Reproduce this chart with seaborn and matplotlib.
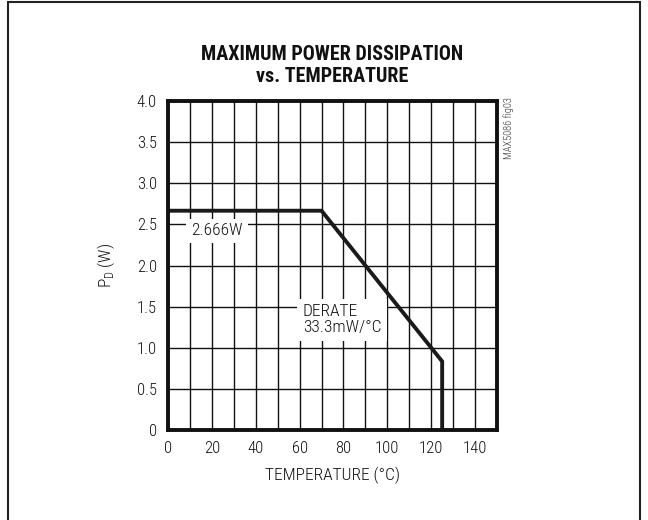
import matplotlib
matplotlib.use("Agg")
import matplotlib.pyplot as plt
import seaborn as sns
import pandas as pd
from matplotlib.patches import Rectangle
from matplotlib import font_manager

temperature = [0, 70, 125, 125]
power = [2.666, 2.666, 0.834, 0.0]
x_ticks = [0, 20, 40, 60, 80, 100, 120, 140]
y_ticks = [0, 0.5, 1.0, 1.5, 2.0, 2.5, 3.0, 3.5, 4.0]
y_tick_labels = ["0", "0.5", "1.0", "1.5", "2.0", "2.5", "3.0", "3.5", "4.0"]

sns.set_theme(style="white")
names = {f.name for f in font_manager.fontManager.ttflist}
fam = [n for n in ["Roboto Condensed", "Liberation Sans Narrow", "Liberation Sans"] if n in names] + ["DejaVu Sans"]
plt.rcParams['font.family'] = fam

df = pd.DataFrame({"T": temperature, "P": power})

fig = plt.figure(figsize=(6.48, 5.2), dpi=100)
fig.patch.set_facecolor("white")
fig.add_artist(Rectangle((8/648, -0.05), (640-8)/648, 1 - 2/520 + 0.05,
                         transform=fig.transFigure, fill=False,
                         edgecolor="#222222", linewidth=1.5))

ax = fig.add_axes([168/648, 1-430/520, (497-168)/648, (430-101)/520])
sns.lineplot(data=df, x="T", y="P", ax=ax, color="#1a1a1a", linewidth=2.8,
             sort=False, estimator=None, solid_joinstyle="miter")

ax.set_xlim(0, 150)
ax.set_ylim(0, 4.0)
ax.set_xticks(x_ticks)
ax.set_xticks([v for v in range(0, 151, 10) if v not in x_ticks], minor=True)
ax.set_yticks(y_ticks)
ax.set_yticklabels(y_tick_labels)
ax.grid(True, which="major", color="#111111", linewidth=1.0)
ax.grid(True, which="minor", axis="x", color="#111111", linewidth=1.0)
ax.set_axisbelow(True)
ax.tick_params(which="both", length=0, labelsize=12, colors="#111111", pad=8)
for lbl in ax.get_xticklabels() + ax.get_yticklabels():
    lbl.set_fontweight("light")
for s in ax.spines.values():
    s.set_linewidth(2.8)
    s.set_color("#111111")

ax.set_xlabel("TEMPERATURE (°C)", fontsize=12.5, color="#111111", labelpad=8, fontweight="light")
ax.set_ylabel("P$_\\mathregular{D}$ (W)", fontsize=12.5, color="#111111", labelpad=14, fontweight="light")

ax.text(10.6, 2.42, "2.666W", fontsize=12.5, color="#111111", va="center", ha="left",
        fontweight="light", bbox=dict(facecolor="white", edgecolor="none", pad=3.5))
ax.text(61.4, 1.34, "DERATE\n33.3mW/°C", fontsize=12.5, color="#111111", va="center", ha="left",
        linespacing=1.1, fontweight="light", bbox=dict(facecolor="white", edgecolor="none", pad=4))

fig.text(332/648, 1-55/520, "MAXIMUM POWER DISSIPATION", ha="center", va="center",
         fontsize=14.5, fontweight="bold", color="#111111")
fig.text(332/648, 1-77/520, "vs. TEMPERATURE", ha="center", va="center",
         fontsize=14.5, fontweight="bold", color="#111111")
fig.text(509/648, 1-128/520, "MAX5086 fig03", ha="center", va="center", rotation=90,
         fontsize=7.5, color="#333333", fontweight="light")

fig.savefig("out.png", dpi=100, facecolor="white")
